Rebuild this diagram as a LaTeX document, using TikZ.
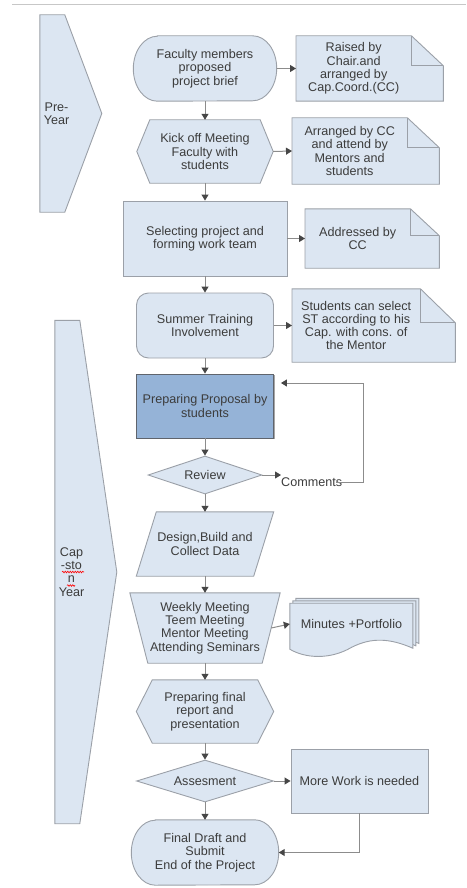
\documentclass[tikz,border=0pt]{standalone}
\usepackage{fontspec}
\setmainfont{Liberation Sans}
\usetikzlibrary{shapes.geometric,arrows.meta,shadows,backgrounds,decorations.pathmorphing}

\definecolor{boxfill}{RGB}{220,230,242}
\definecolor{boxline}{RGB}{155,160,168}
\definecolor{propfill}{RGB}{149,179,215}
\definecolor{propline}{RGB}{95,100,108}
\definecolor{txtc}{RGB}{60,60,60}
\definecolor{linec}{RGB}{140,140,140}
\definecolor{tipc}{RGB}{70,70,70}

\tikzset{
  txt/.style={font=\fontsize{12.6}{13.3}\selectfont, text=txtc, align=center, inner sep=0pt},
  shp/.style={draw=boxline, fill=boxfill, line width=0.9pt},
  conn/.style={draw=linec, line width=1pt, -{Triangle[length=6pt,width=7pt,color=tipc]}},
  squig/.style={red, line width=0.6pt, decorate, decoration={snake, segment length=2.5pt, amplitude=0.8pt}}
}

% outlines drawn behind the (unframed) nodes
\newcommand{\hexbg}[2]{\begin{pgfonlayer}{background}
  \draw[shp] (#1.west) -- ([xshift=#2]#1.north west) -- ([xshift=-#2]#1.north east) -- (#1.east)
    -- ([xshift=-#2]#1.south east) -- ([xshift=#2]#1.south west) -- cycle;
  \end{pgfonlayer}}
\newcommand{\slantbg}[2]{\begin{pgfonlayer}{background}
  \draw[shp] (#1.south west) -- ([xshift=#2]#1.north west) -- (#1.north east) -- ([xshift=-#2]#1.south east) -- cycle;
  \end{pgfonlayer}}
\newcommand{\trapbg}[2]{\begin{pgfonlayer}{background}
  \draw[shp] (#1.north west) -- (#1.north east) -- ([xshift=-#2]#1.south east) -- ([xshift=#2]#1.south west) -- cycle;
  \end{pgfonlayer}}
\newcommand{\notebg}[3]{\begin{pgfonlayer}{background}
  \draw[shp] (#1.south west) -- (#1.north west) -- (#1.north east) -- ([shift={(#2,-#3)}]#1.north east)
    -- ([xshift=#2]#1.south east) -- cycle;
  \draw[shp, fill=none] (#1.north east) -- ([yshift=-#3]#1.north east) -- ([shift={(#2,-#3)}]#1.north east);
  \end{pgfonlayer}}
\newcommand{\termbg}[3]{\begin{pgfonlayer}{background}
  \draw[shp] ([xshift=#2]#1.north west) -- ([xshift=-#2]#1.north east)
    arc[start angle=90, end angle=-90, x radius=#2, y radius=#3] -- ([xshift=#2]#1.south west)
    arc[start angle=270, end angle=90, x radius=#2, y radius=#3] -- cycle;
  \end{pgfonlayer}}
\newcommand{\chevbg}[3]{\begin{pgfonlayer}{background}
  \draw[shp] (#1.north west) -- ([xshift=#2]#1.north west) -- ([xshift=#3]#1.west)
    -- ([xshift=#2]#1.south west) -- (#1.south west) -- cycle;
  \end{pgfonlayer}}
\newcommand{\docbg}[1]{\begin{pgfonlayer}{background}
  \begin{scope}[shift={(#1.south west)}]
  \foreach \o in {6,3,0}
    \draw[shp, shift={(\o,0.8*\o)}] (0,-4) -- (0,42) -- (123,42) -- (123,-3)
      .. controls (100,7) and (82,8) .. (62,-2) .. controls (40,-15) and (15,-13) .. (0,-4) -- cycle;
  \end{scope}
  \end{pgfonlayer}}

\begin{document}
\begin{tikzpicture}[x=1pt,y=1pt]
        \useasboundingbox (0,0) rectangle (466,-888);
        \draw[color=black!22, line width=1pt] (12,-5) -- (466,-5);

        % phases
        \node[txt, minimum width=33, minimum height=197] (pre) at (56.5,-113.5) {Pre-\\Year};
        \chevbg{pre}{25}{62}
        \node[txt, minimum width=33, minimum height=503] (cap) at (71.5,-572) {Cap\\-sto\\n\\Year};
        \chevbg{cap}{25}{62}
        \draw[squig] (62,-572) -- (84,-572);
        \draw[squig] (67,-585.5) -- (75,-585.5);

        % main column
        \node[txt, minimum width=143, minimum height=65] (fac) at (205,-68.5) {Faculty members\\proposed\\project brief};
        \termbg{fac}{24}{32.5}
        \node[txt, minimum width=136, minimum height=63] (kick) at (205,-151.5) {Kick off Meeting\\Faculty with\\students};
        \hexbg{kick}{13}
        \node[txt, shp, minimum width=164, minimum height=75] (sel) at (205,-238.5) {Selecting project and\\forming work team};
        \node[txt, shp, rounded corners=12pt, minimum width=137, minimum height=65] (sum) at (205,-325.5) {Summer Training\\Involvement};
        \node[txt, draw=propline, fill=propfill, line width=0.9pt, drop shadow={shadow xshift=1.2pt, shadow yshift=-1.2pt, opacity=0.35, fill=black},
              minimum width=137, minimum height=64] (prop) at (205,-406) {Preparing Proposal by\\students};
        \node[txt, shp, diamond, aspect=3, minimum width=114, minimum height=38] (rev) at (205,-475) {Review};
        \node[txt, minimum width=137, minimum height=64] (des) at (205,-544) {Design,Build and\\Collect Data};
        \slantbg{des}{20}
        \node[txt, minimum width=150, minimum height=70] (wk) at (205,-628) {Weekly Meeting\\Teem Meeting\\Mentor Meeting\\Attending Seminars};
        \trapbg{wk}{18}
        \node[txt, minimum width=137, minimum height=63] (fin) at (205,-711.5) {Preparing final\\report and\\presentation};
        \hexbg{fin}{16}
        \node[txt, shp, diamond, aspect=3.26, minimum width=137, minimum height=42] (ass) at (205,-781) {Assesment};
        \node[txt, minimum width=147, minimum height=65] (done) at (205,-852.5) {Final Draft and\\Submit\\End of the Project};
        \termbg{done}{24}{32.5}

        % side column
        \node[txt, anchor=west, minimum width=115, minimum height=65] (raise) at (296,-68.5) {Raised by\\Chair.and\\arranged by\\Cap.Coord.(CC)};
        \notebg{raise}{32}{30}
        \node[txt, anchor=west, minimum width=115, minimum height=66] (arr) at (292,-151) {Arranged by CC\\and attend by\\Mentors and\\students};
        \notebg{arr}{32}{30}
        \node[txt, anchor=west, minimum width=105, minimum height=59] (addr) at (305,-238.5) {Addressed by\\CC};
        \notebg{addr}{29}{27}
        \node[txt, anchor=west, minimum width=128, minimum height=73] (stud) at (292,-325.5) {Students can select\\ST according to his\\Cap. with cons. of\\the Mentor};
        \notebg{stud}{35}{34}
        \node[txt, anchor=west] (com) at (281,-482) {Comments};
        \coordinate (loopc) at (363,-383);
        \node[txt, minimum width=123, minimum height=42] (mins) at (351.5,-624) {Minutes +Portfolio};
        \docbg{mins}
        \node[txt, shp, minimum width=137, minimum height=64] (more) at (359.5,-781) {More Work is needed};

        % connectors
        \foreach \a/\b in {fac/kick,kick/sel,sel/sum,sum/prop,prop/rev,rev/des,des/wk,wk/fin,fin/ass,ass/done}
        \draw[conn] (\a.south) -- (\b.north);
        \foreach \a/\b in {fac/raise,kick/arr,sel/addr,sum/stud,ass/more}
        \draw[conn] (\a.east) -- (\b.west);
        \draw[conn] ([xshift=-9]wk.east) -- (mins.west);
        \draw[conn] (rev.east) -- (rev.east -| com.west);
        \draw[conn, shorten >=7pt] ([xshift=-6]com.east) -| (loopc) -- (loopc -| prop.east);
        \draw[conn] (more.south) |- (done.east);
\end{tikzpicture}
\end{document}
